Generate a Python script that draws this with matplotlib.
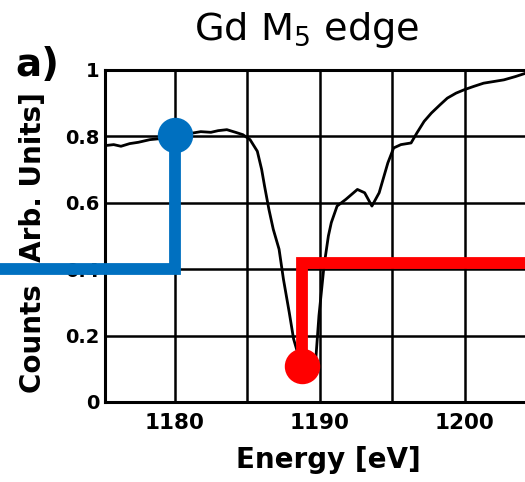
import matplotlib
matplotlib.use("Agg")
import matplotlib.pyplot as plt
from matplotlib.ticker import MultipleLocator

plt.rcParams['font.family'] = ['DejaVu Sans']
plt.rcParams['mathtext.fontset'] = 'dejavusans'

# absorption spectrum
energy = [1175.2, 1175.8, 1176.3, 1176.9, 1177.5, 1178.3, 1179.0, 1179.6,
          1180.3, 1181.0, 1181.8, 1182.5, 1183.0, 1183.6, 1184.2, 1184.7,
          1185.2, 1185.7, 1186.0, 1186.2, 1186.5, 1186.8, 1187.2, 1187.5,
          1187.9, 1188.2, 1188.6, 1189.0, 1189.4, 1189.7, 1189.95, 1190.3,
          1190.6, 1190.8, 1191.2, 1191.8, 1192.2, 1192.6, 1193.1, 1193.6,
          1194.1, 1194.7, 1195.1, 1195.6, 1196.3, 1196.7, 1197.2, 1197.7,
          1198.3, 1198.8, 1199.4, 1199.95, 1200.6, 1201.3, 1202.0, 1202.7,
          1203.5, 1204.2, 1205.0]
counts = [0.772, 0.775, 0.770, 0.778, 0.782, 0.790, 0.793, 0.798,
          0.805, 0.808, 0.814, 0.812, 0.817, 0.820, 0.812, 0.805,
          0.790, 0.755, 0.700, 0.650, 0.580, 0.520, 0.460, 0.370,
          0.270, 0.190, 0.130, 0.095, 0.085, 0.110, 0.260, 0.410,
          0.500, 0.540, 0.590, 0.610, 0.625, 0.640, 0.630, 0.590,
          0.630, 0.720, 0.765, 0.775, 0.780, 0.810, 0.845, 0.870,
          0.895, 0.915, 0.930, 0.940, 0.950, 0.960, 0.965, 0.970,
          0.980, 0.990, 1.000]

# markers and connector paths
blue_pt = (1180.0, 0.805)
blue_path_x = [1167.0, 1180.0, 1180.0]
blue_path_y = [0.4, 0.4, 0.805]
red_pt = (1188.75, 0.108)
red_path_x = [1188.75, 1188.75, 1208.0]
red_path_y = [0.108, 0.42, 0.42]

bold = dict(fontweight='bold')

fig = plt.figure(figsize=(5.25, 4.82), dpi=100)
ax = fig.add_axes([0.2, 0.166, 0.851, 0.689])

ax.plot(energy, counts, color='black', lw=2.0, zorder=3)

ax.set_xlim(1175.2, 1206.0)
ax.set_ylim(0, 1)
ax.xaxis.set_major_locator(MultipleLocator(10))
ax.xaxis.set_minor_locator(MultipleLocator(5))
ax.grid(which='both', color='black', lw=1.8)
ax.tick_params(which='both', length=0)
ax.tick_params(axis='x', pad=8)
ax.tick_params(axis='y', pad=4)
ax.set_yticks([0, 0.2, 0.4, 0.6, 0.8, 1.0])
ax.set_yticklabels(['0', '0.2', '0.4', '0.6', '0.8', '1'], fontsize=14, **bold)
ax.set_xticks([1180, 1190, 1200])
ax.set_xticklabels(['1180', '1190', '1200'], fontsize=15.5, **bold)
for sp in ax.spines.values():
    sp.set_linewidth(2.2)

ax.set_xlabel('Energy [eV]', fontsize=20, labelpad=9, **bold)
ax.set_ylabel('Counts [Arb. Units]', fontsize=20, **bold)
ax.yaxis.set_label_coords(-0.13, 0.48)

ax.plot(blue_path_x, blue_path_y, color='#0070C0', lw=8.5,
        solid_joinstyle='miter', clip_on=False, zorder=6)
ax.plot(*blue_pt, 'o', color='#0070C0', ms=24.5, clip_on=False, zorder=7)
ax.plot(red_path_x, red_path_y, color='#FF0000', lw=8.5,
        solid_joinstyle='miter', clip_on=False, zorder=6)
ax.plot(*red_pt, 'o', color='#FF0000', ms=24.5, clip_on=False, zorder=7)

fig.text(0.585, 0.917, 'Gd M$_5$ edge', fontsize=27.5, ha='center', va='baseline')
fig.text(0.03, 0.842, 'a)', fontsize=28, ha='left', va='baseline', **bold)

fig.savefig('out.png', dpi=100)
